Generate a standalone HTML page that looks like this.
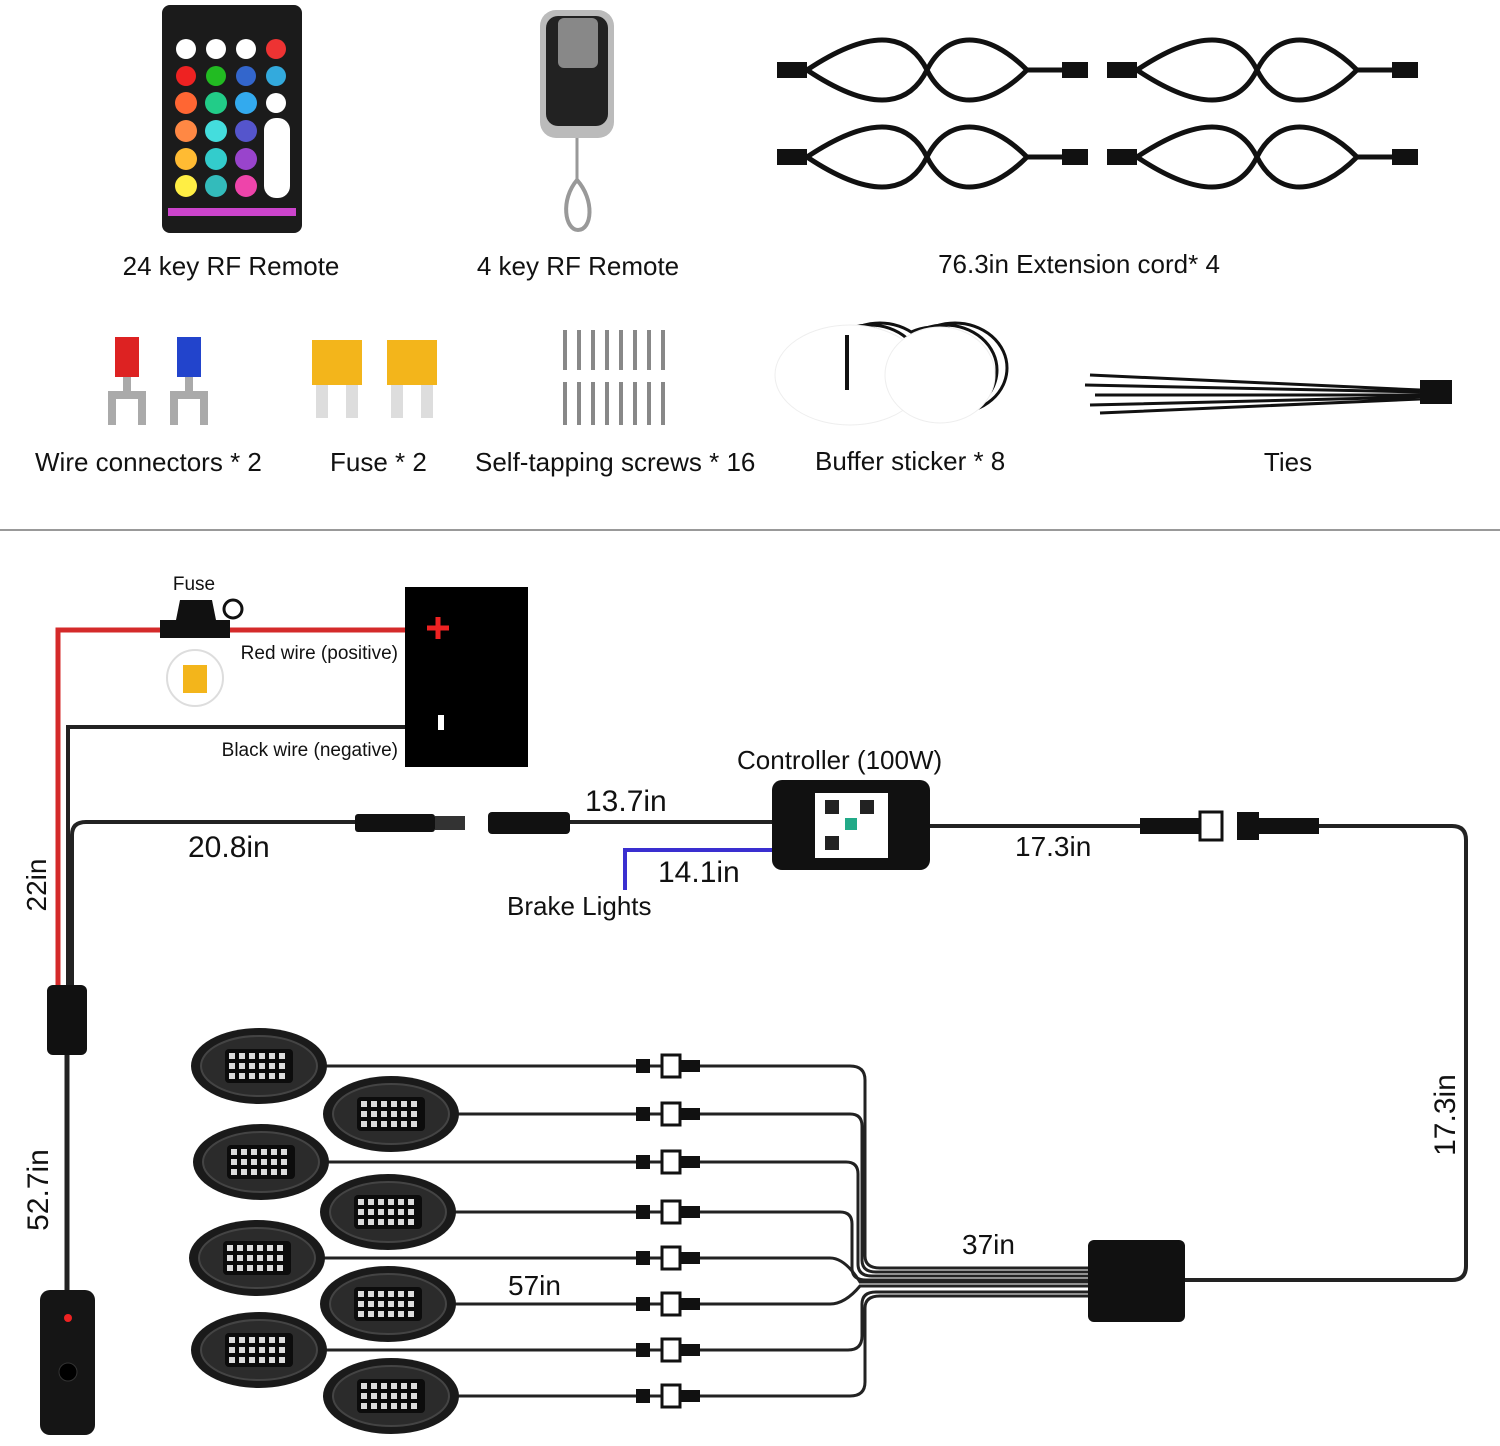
<!DOCTYPE html>
<html><head><meta charset="utf-8"><style>
html,body{margin:0;padding:0;background:#fff;}
svg text{font-family:"Liberation Sans","Noto Sans CJK SC",sans-serif;fill:#111;}
</style></head><body>
<svg width="1500" height="1441" viewBox="0 0 1500 1441" xmlns="http://www.w3.org/2000/svg">
<defs>
<g id="pod">
  <ellipse cx="0" cy="0" rx="68" ry="38" fill="#1a1a1a"/>
  <ellipse cx="0" cy="0" rx="58" ry="30" fill="#2b2b2b" stroke="#444" stroke-width="2"/>
  <rect x="-34" y="-17" width="68" height="34" rx="4" fill="#0c0c0c"/>
  <g fill="#ddd">
    <rect x="-30" y="-13" width="6" height="6"/><rect x="-20" y="-13" width="6" height="6"/><rect x="-10" y="-13" width="6" height="6"/><rect x="0" y="-13" width="6" height="6"/><rect x="10" y="-13" width="6" height="6"/><rect x="20" y="-13" width="6" height="6"/>
    <rect x="-30" y="-3" width="6" height="6"/><rect x="-20" y="-3" width="6" height="6"/><rect x="-10" y="-3" width="6" height="6"/><rect x="0" y="-3" width="6" height="6"/><rect x="10" y="-3" width="6" height="6"/><rect x="20" y="-3" width="6" height="6"/>
    <rect x="-30" y="7" width="6" height="6"/><rect x="-20" y="7" width="6" height="6"/><rect x="-10" y="7" width="6" height="6"/><rect x="0" y="7" width="6" height="6"/><rect x="10" y="7" width="6" height="6"/><rect x="20" y="7" width="6" height="6"/>
  </g>
</g>
<g id="conn">
  <rect x="-14" y="-7" width="14" height="14" fill="#111"/>
  <rect x="12" y="-11" width="18" height="22" fill="#fff" stroke="#111" stroke-width="3"/>
  <rect x="30" y="-6" width="20" height="12" fill="#111"/>
</g>
<g id="cord">
  <rect x="0" y="-8" width="30" height="16" fill="#111"/>
  <path d="M30 0 C90 -40 130 -40 150 0 C170 40 210 40 250 0 C210 -40 170 -40 150 0 C130 40 90 40 30 0" fill="none" stroke="#111" stroke-width="5"/>
  <path d="M250 0 L285 0" stroke="#111" stroke-width="5"/>
  <rect x="285" y="-8" width="26" height="16" fill="#111"/>
</g>
</defs>

<!-- top row -->
<rect x="162" y="5" width="140" height="228" rx="8" fill="#1b1b1b"/>
<g>
  <circle cx="186" cy="49" r="10" fill="#fff"/><circle cx="216" cy="49" r="10" fill="#fff"/><circle cx="246" cy="49" r="10" fill="#fff"/><circle cx="276" cy="49" r="10" fill="#e33"/>
  <circle cx="186" cy="76" r="10" fill="#e22"/><circle cx="216" cy="76" r="10" fill="#2b2"/><circle cx="246" cy="76" r="10" fill="#36c"/><circle cx="276" cy="76" r="10" fill="#3ad"/>
  <circle cx="186" cy="103" r="11" fill="#f63"/><circle cx="216" cy="103" r="11" fill="#2c8"/><circle cx="246" cy="103" r="11" fill="#3ae"/><circle cx="276" cy="103" r="10" fill="#fff"/>
  <circle cx="186" cy="131" r="11" fill="#f84"/><circle cx="216" cy="131" r="11" fill="#4dd"/><circle cx="246" cy="131" r="11" fill="#55c"/>
  <circle cx="186" cy="159" r="11" fill="#fb3"/><circle cx="216" cy="159" r="11" fill="#3cc"/><circle cx="246" cy="159" r="11" fill="#94c"/>
  <circle cx="186" cy="186" r="11" fill="#fe4"/><circle cx="216" cy="186" r="11" fill="#3bb"/><circle cx="246" cy="186" r="11" fill="#e4a"/>
  <rect x="264" y="118" width="26" height="80" rx="12" fill="#fff"/>
  <rect x="168" y="208" width="128" height="8" fill="#c4c"/>
</g>
<text x="231" y="275" font-size="26" text-anchor="middle">24 key RF Remote</text>

<rect x="540" y="10" width="74" height="128" rx="16" fill="#bbb"/>
<rect x="546" y="16" width="62" height="110" rx="12" fill="#222"/>
<rect x="558" y="18" width="40" height="50" rx="6" fill="#888"/>
<path d="M577 138 L577 180" stroke="#999" stroke-width="3"/>
<path d="M577 180 C560 200 565 230 578 230 C592 230 595 200 577 180" fill="none" stroke="#999" stroke-width="4"/>
<text x="578" y="275" font-size="26" text-anchor="middle">4 key RF Remote</text>

<use href="#cord" x="777" y="70"/><use href="#cord" x="1107" y="70"/>
<use href="#cord" x="777" y="157"/><use href="#cord" x="1107" y="157"/>
<text x="1079" y="273" font-size="26" text-anchor="middle">76.3in Extension cord* 4</text>

<!-- row 2 -->
<rect x="115" y="337" width="24" height="40" fill="#d22"/><path d="M127 377 L127 395 M112 425 L112 395 L142 395 L142 425" stroke="#aaa" stroke-width="8" fill="none"/>
<rect x="177" y="337" width="24" height="40" fill="#24c"/><path d="M189 377 L189 395 M174 425 L174 395 L204 395 L204 425" stroke="#aaa" stroke-width="8" fill="none"/>
<rect x="312" y="340" width="50" height="45" fill="#f3b51b"/><rect x="316" y="385" width="12" height="33" fill="#ddd"/><rect x="346" y="385" width="12" height="33" fill="#ddd"/>
<rect x="387" y="340" width="50" height="45" fill="#f3b51b"/><rect x="391" y="385" width="12" height="33" fill="#ddd"/><rect x="421" y="385" width="12" height="33" fill="#ddd"/>
<g stroke="#888" stroke-width="4">
<path d="M565 330V370M579 330V370M593 330V370M607 330V370M621 330V370M635 330V370M649 330V370M663 330V370"/>
<path d="M565 382V425M579 382V425M593 382V425M607 382V425M621 382V425M635 382V425M649 382V425M663 382V425"/>
</g>
<g fill="#fff" stroke="#111" stroke-width="3">
<ellipse cx="955" cy="368" rx="52" ry="45"/><ellipse cx="945" cy="370" rx="52" ry="45"/><ellipse cx="935" cy="372" rx="52" ry="45"/>
<ellipse cx="880" cy="368" rx="52" ry="45"/><ellipse cx="870" cy="370" rx="52" ry="45"/><ellipse cx="860" cy="372" rx="52" ry="45"/>
</g>
<ellipse cx="850" cy="375" rx="75" ry="50" fill="#fff" stroke="#eee"/><ellipse cx="940" cy="375" rx="55" ry="48" fill="#fff" stroke="#eee"/>
<path d="M847 335 L847 390" stroke="#111" stroke-width="4"/>
<g stroke="#111" stroke-width="3"><path d="M1090 375 L1420 390 M1085 385 L1420 392 M1095 395 L1420 395 M1090 405 L1420 397 M1100 413 L1420 399"/></g>
<rect x="1420" y="380" width="32" height="24" fill="#111"/>
<g font-size="26">
<text x="35" y="471">Wire connectors * 2</text>
<text x="330" y="471">Fuse * 2</text>
<text x="475" y="471">Self-tapping screws * 16</text>
<text x="815" y="470">Buffer sticker * 8</text>
<text x="1288" y="471" text-anchor="middle">Ties</text>
</g>
<line x1="0" y1="530" x2="1500" y2="530" stroke="#999" stroke-width="2"/>

<!-- diagram -->
<rect x="405" y="587" width="123" height="180" fill="#000"/>
<path d="M427 628 H449 M438 617 V639" stroke="#e22" stroke-width="5"/>
<rect x="438" y="715" width="6" height="15" fill="#fff"/>
<path d="M405 630 H58 V985" stroke="#d42a2a" stroke-width="5" fill="none"/>
<path d="M405 727 H68 V985" stroke="#222" stroke-width="4" fill="none"/>
<rect x="160" y="620" width="70" height="18" fill="#111"/>
<path d="M176 620 L180 600 L212 600 L216 620" fill="#111"/>
<circle cx="233" cy="609" r="9" fill="none" stroke="#111" stroke-width="3"/>
<text x="194" y="590" font-size="19" text-anchor="middle">Fuse</text>
<circle cx="195" cy="678" r="28" fill="#fff" stroke="#ddd" stroke-width="2"/>
<rect x="183" y="665" width="24" height="28" fill="#f3b51b"/>
<text x="398" y="659" font-size="19" text-anchor="end">Red wire (positive)</text>
<text x="398" y="756" font-size="19" text-anchor="end">Black wire (negative)</text>
<text transform="translate(46,885) rotate(-90)" font-size="28" text-anchor="middle">22in</text>

<rect x="47" y="985" width="40" height="70" rx="6" fill="#111"/>
<path d="M67 1055 V1292" stroke="#222" stroke-width="5"/>
<rect x="40" y="1290" width="55" height="145" rx="10" fill="#151515"/>
<circle cx="68" cy="1318" r="4" fill="#e22"/><circle cx="68" cy="1372" r="9" fill="#000" stroke="#333"/>
<text transform="translate(48,1190) rotate(-90)" font-size="30" text-anchor="middle">52.7in</text>

<path d="M72 985 V835 Q72 822 86 822 H358" stroke="#222" stroke-width="4" fill="none"/>
<rect x="355" y="814" width="80" height="18" rx="3" fill="#111"/><rect x="435" y="816" width="30" height="14" fill="#333"/>
<text x="188" y="857" font-size="30">20.8in</text>
<rect x="488" y="812" width="82" height="22" rx="4" fill="#111"/>
<path d="M570 822 H772" stroke="#222" stroke-width="4"/>
<text x="585" y="811" font-size="30">13.7in</text>
<rect x="772" y="780" width="158" height="90" rx="10" fill="#111"/>
<rect x="815" y="793" width="73" height="65" fill="#fff"/>
<rect x="825" y="800" width="14" height="14" fill="#222"/><rect x="860" y="800" width="14" height="14" fill="#222"/><rect x="825" y="836" width="14" height="14" fill="#222"/><rect x="845" y="818" width="12" height="12" fill="#2a8"/>
<text x="737" y="769" font-size="26">Controller (100W)</text>
<path d="M772 850 H625 V890" stroke="#3a2fd0" stroke-width="4" fill="none"/>
<text x="658" y="882" font-size="30">14.1in</text>
<text x="507" y="915" font-size="26">Brake Lights</text>
<path d="M930 826 H1140" stroke="#222" stroke-width="4"/>
<rect x="1140" y="818" width="60" height="16" fill="#111"/><rect x="1200" y="812" width="22" height="28" fill="#fff" stroke="#111" stroke-width="3"/>
<rect x="1237" y="812" width="22" height="28" fill="#111"/><rect x="1259" y="818" width="60" height="16" fill="#111"/>
<path d="M1319 826 H1452 Q1466 826 1466 840 V1266 Q1466 1280 1452 1280 H1185" stroke="#222" stroke-width="4" fill="none"/>
<text x="1015" y="856" font-size="28">17.3in</text>
<text transform="translate(1455,1115) rotate(-90)" font-size="30" text-anchor="middle">17.3in</text>

<rect x="1088" y="1240" width="97" height="82" rx="6" fill="#111"/>
<text x="962" y="1254" font-size="28">37in</text>
<text x="508" y="1295" font-size="28">57in</text>

<g stroke="#222" stroke-width="3" fill="none">
<path d="M325 1066 H850 Q865 1066 865 1080 V1256 Q865 1268 880 1268 H1088"/>
<path d="M458 1114 H850 Q862 1114 862 1126 V1260 Q862 1272 876 1272 H1088"/>
<path d="M325 1162 H846 Q858 1162 858 1174 V1264 Q858 1276 872 1276 H1088"/>
<path d="M455 1212 H840 Q852 1212 852 1224 V1268 Q852 1280 866 1280 H1088"/>
<path d="M322 1258 H830 Q845 1258 860 1282 H1088"/>
<path d="M455 1304 H830 Q845 1304 860 1286 H1088"/>
<path d="M325 1350 H848 Q862 1350 862 1336 V1304 Q862 1292 876 1292 H1088"/>
<path d="M458 1396 H850 Q865 1396 865 1382 V1308 Q865 1296 880 1296 H1088"/>
</g>
<use href="#conn" x="650" y="1066"/><use href="#conn" x="650" y="1114"/><use href="#conn" x="650" y="1162"/><use href="#conn" x="650" y="1212"/>
<use href="#conn" x="650" y="1258"/><use href="#conn" x="650" y="1304"/><use href="#conn" x="650" y="1350"/><use href="#conn" x="650" y="1396"/>
<use href="#pod" x="259" y="1066"/><use href="#pod" x="391" y="1114"/><use href="#pod" x="261" y="1162"/><use href="#pod" x="388" y="1212"/>
<use href="#pod" x="257" y="1258"/><use href="#pod" x="388" y="1304"/><use href="#pod" x="259" y="1350"/><use href="#pod" x="391" y="1396"/>
</svg>
</body></html>
